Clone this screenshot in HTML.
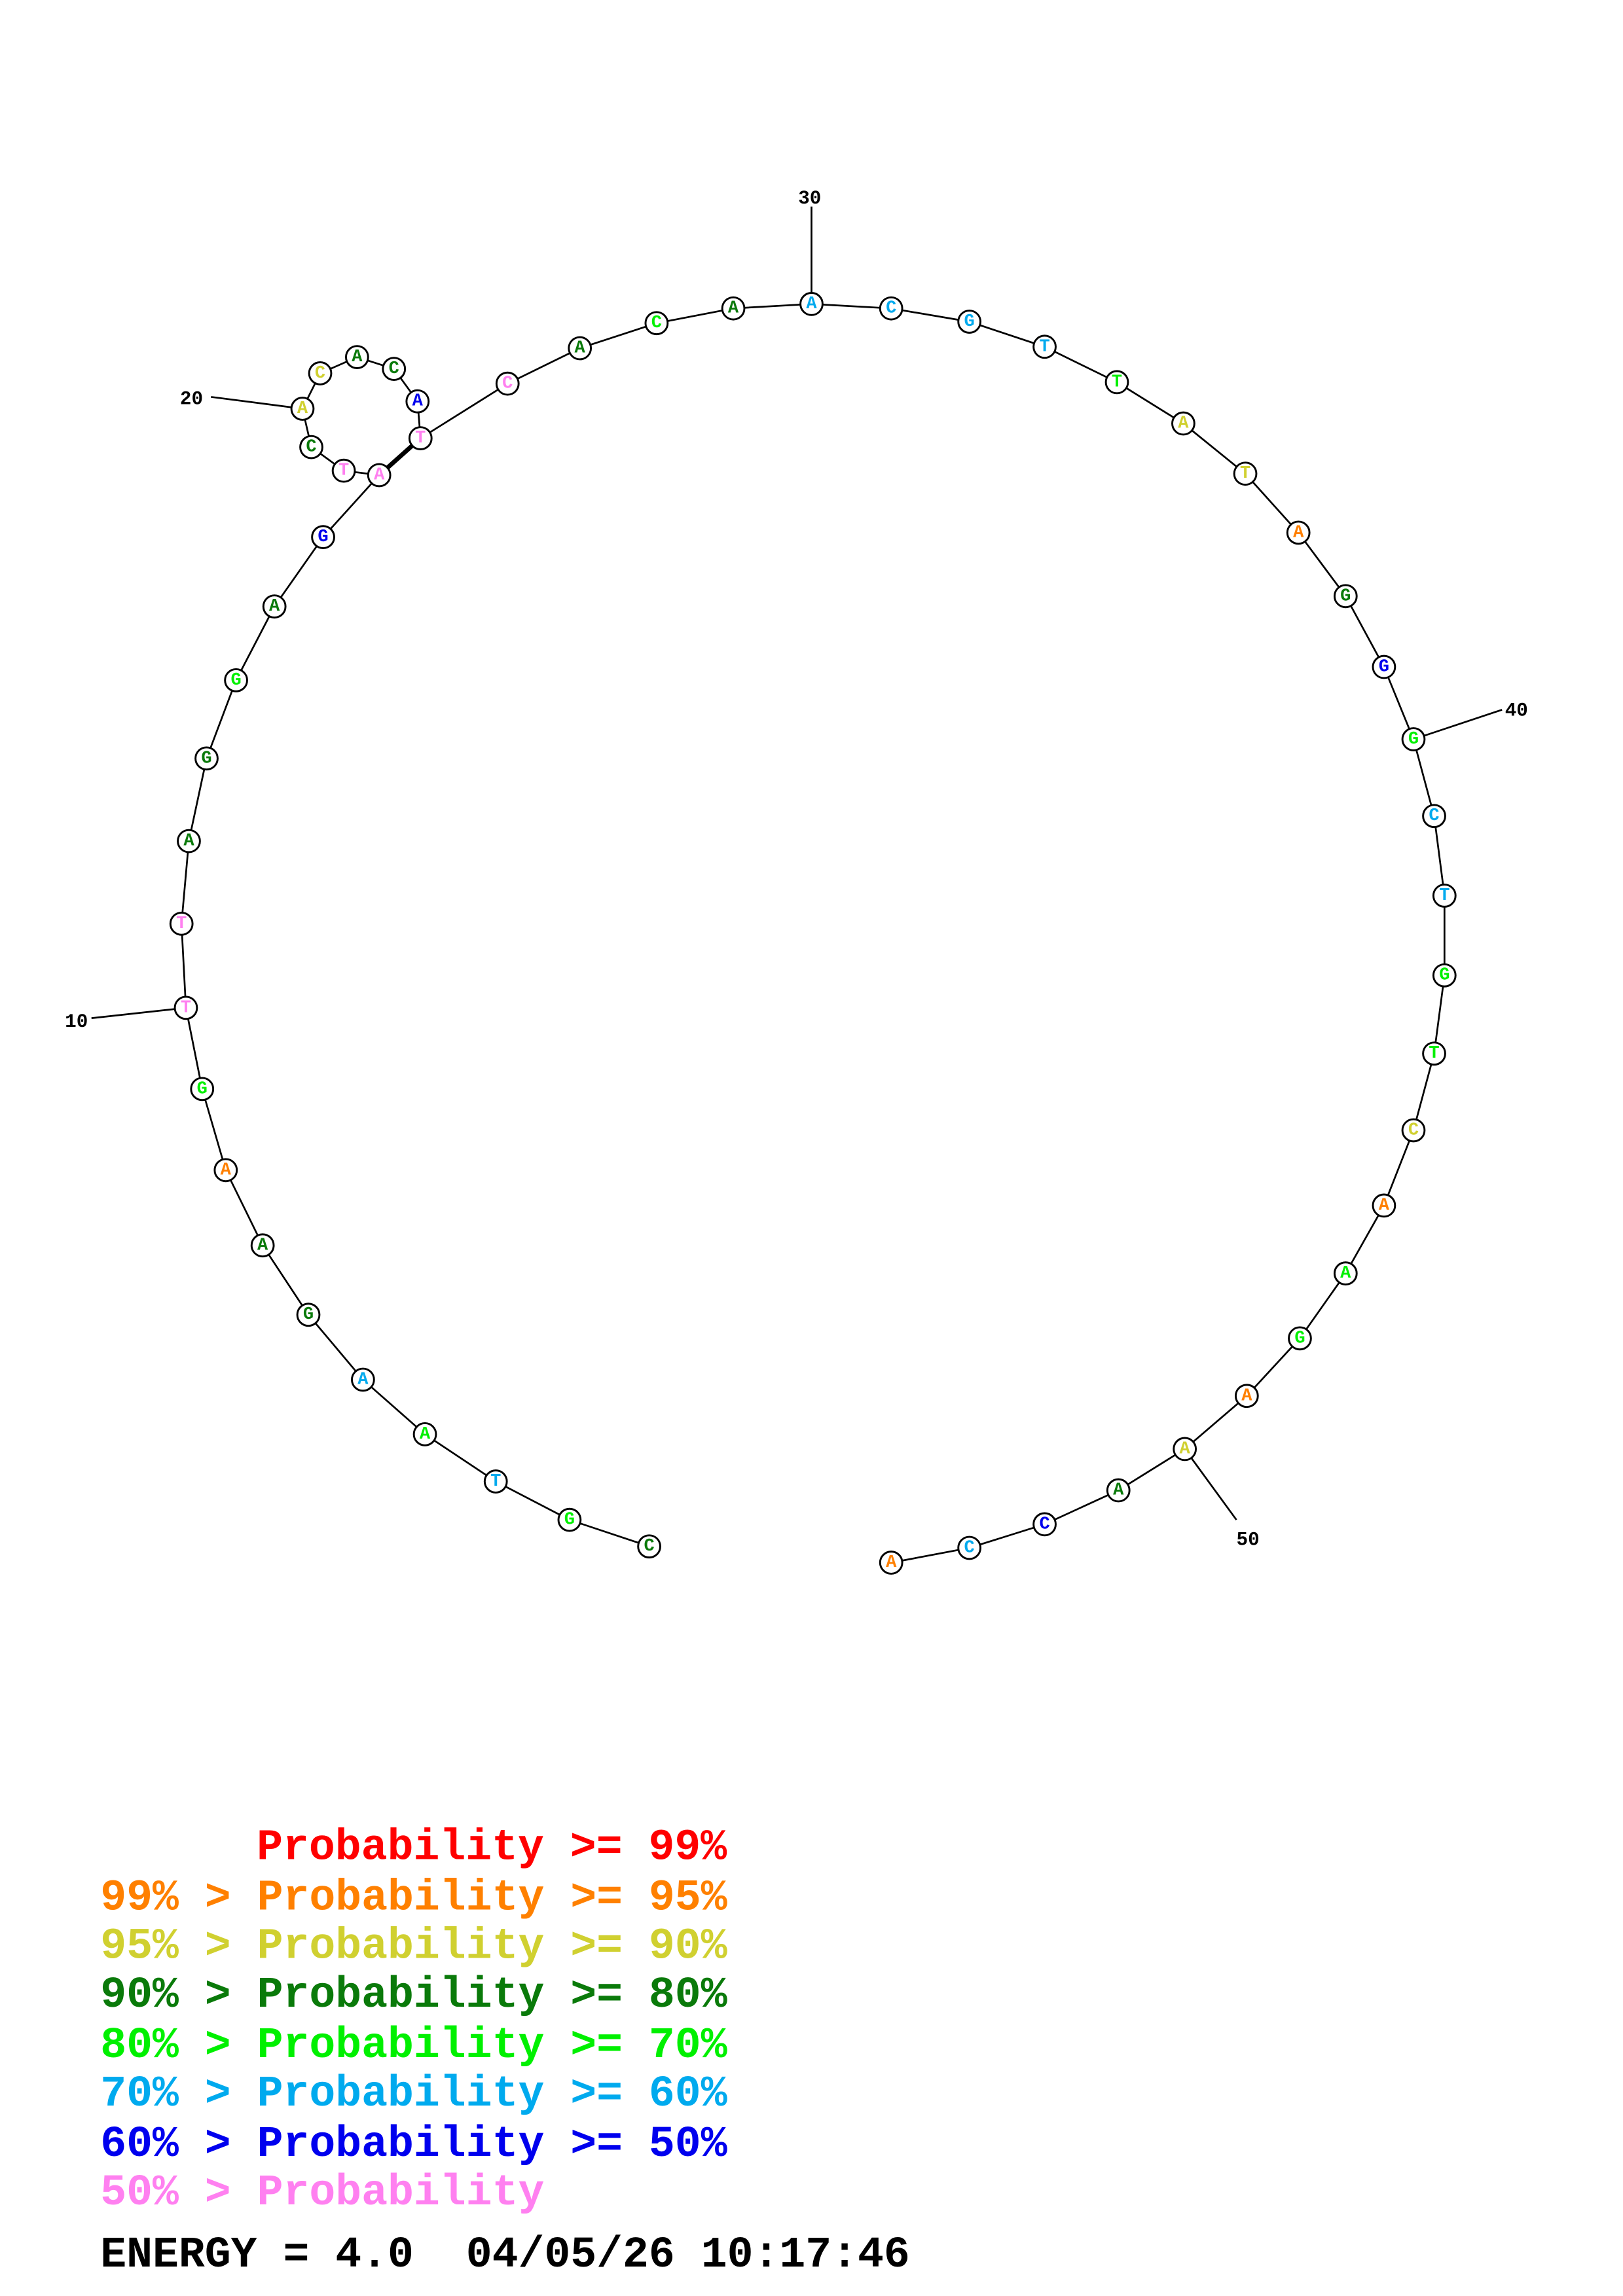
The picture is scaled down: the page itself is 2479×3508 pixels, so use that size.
<!DOCTYPE html>
<html><head><meta charset="utf-8"><style>
html,body{margin:0;padding:0;background:#fff}
svg{display:block}
.n circle{fill:#fff;stroke:#000;stroke-width:1.3}
.n text{font-family:"Liberation Mono",monospace;font-weight:bold;font-size:12px;text-anchor:middle;dominant-baseline:central}
.lb{font-family:"Liberation Mono",monospace;font-weight:bold;font-size:13px;fill:#000}
.lg text{font-family:"Liberation Mono",monospace;font-weight:bold;font-size:29.5px;white-space:pre}
.k{fill:#0a7a0a}.g{fill:#00f000}.c{fill:#00aaee}.o{fill:#ff8000}.y{fill:#d0d030}.b{fill:#0000ee}.p{fill:#ff80f0}
</style></head><body>
<svg width="2479" height="3508" viewBox="0 0 1100 1556" preserveAspectRatio="none" xmlns="http://www.w3.org/2000/svg">
<g stroke="#000" stroke-width="1.2" fill="none">
<polyline points="440,1048 386,1030 336,1004 288,972 246,935 209,891 178,844 153,793 137,738 126,683 123,626 128,570 140,514 160,461 186,411 219,364 257,322 233,319 211,303 205,277 217,253 242,242 267,250 283,272 285,297 344,260 393,236 445,219 497,209 550,206 604,209 657,218 708,235 757,259 802,287 844,321 880,361 912,404 938,452 958,501 972,553 979,607 979,661 972,714 958,766 938,817 912,863 881,907 845,946 803,982 758,1010 708,1033 657,1049 604,1059"/>
<line x1="257" y1="322" x2="285" y2="297" stroke-width="3"/>
<line x1="126" y1="683" x2="62" y2="690"/>
<line x1="205" y1="277" x2="143" y2="269"/>
<line x1="550" y1="206" x2="550" y2="140"/>
<line x1="958" y1="501" x2="1018" y2="481"/>
<line x1="803" y1="982" x2="838" y2="1030"/>
</g>
<text class="lb" x="44" y="696">10</text>
<text class="lb" x="122" y="274">20</text>
<text class="lb" x="541" y="138">30</text>
<text class="lb" x="1020" y="485">40</text>
<text class="lb" x="838" y="1047">50</text>
<g class="n">
<circle cx="440" cy="1048" r="7.5"/><text x="440" y="1048" class="k">C</text>
<circle cx="386" cy="1030" r="7.5"/><text x="386" y="1030" class="g">G</text>
<circle cx="336" cy="1004" r="7.5"/><text x="336" y="1004" class="c">T</text>
<circle cx="288" cy="972" r="7.5"/><text x="288" y="972" class="g">A</text>
<circle cx="246" cy="935" r="7.5"/><text x="246" y="935" class="c">A</text>
<circle cx="209" cy="891" r="7.5"/><text x="209" y="891" class="k">G</text>
<circle cx="178" cy="844" r="7.5"/><text x="178" y="844" class="k">A</text>
<circle cx="153" cy="793" r="7.5"/><text x="153" y="793" class="o">A</text>
<circle cx="137" cy="738" r="7.5"/><text x="137" y="738" class="g">G</text>
<circle cx="126" cy="683" r="7.5"/><text x="126" y="683" class="p">T</text>
<circle cx="123" cy="626" r="7.5"/><text x="123" y="626" class="p">T</text>
<circle cx="128" cy="570" r="7.5"/><text x="128" y="570" class="k">A</text>
<circle cx="140" cy="514" r="7.5"/><text x="140" y="514" class="k">G</text>
<circle cx="160" cy="461" r="7.5"/><text x="160" y="461" class="g">G</text>
<circle cx="186" cy="411" r="7.5"/><text x="186" y="411" class="k">A</text>
<circle cx="219" cy="364" r="7.5"/><text x="219" y="364" class="b">G</text>
<circle cx="257" cy="322" r="7.5"/><text x="257" y="322" class="p">A</text>
<circle cx="233" cy="319" r="7.5"/><text x="233" y="319" class="p">T</text>
<circle cx="211" cy="303" r="7.5"/><text x="211" y="303" class="k">C</text>
<circle cx="205" cy="277" r="7.5"/><text x="205" y="277" class="y">A</text>
<circle cx="217" cy="253" r="7.5"/><text x="217" y="253" class="y">C</text>
<circle cx="242" cy="242" r="7.5"/><text x="242" y="242" class="k">A</text>
<circle cx="267" cy="250" r="7.5"/><text x="267" y="250" class="k">C</text>
<circle cx="283" cy="272" r="7.5"/><text x="283" y="272" class="b">A</text>
<circle cx="285" cy="297" r="7.5"/><text x="285" y="297" class="p">T</text>
<circle cx="344" cy="260" r="7.5"/><text x="344" y="260" class="p">C</text>
<circle cx="393" cy="236" r="7.5"/><text x="393" y="236" class="k">A</text>
<circle cx="445" cy="219" r="7.5"/><text x="445" y="219" class="g">C</text>
<circle cx="497" cy="209" r="7.5"/><text x="497" y="209" class="k">A</text>
<circle cx="550" cy="206" r="7.5"/><text x="550" y="206" class="c">A</text>
<circle cx="604" cy="209" r="7.5"/><text x="604" y="209" class="c">C</text>
<circle cx="657" cy="218" r="7.5"/><text x="657" y="218" class="c">G</text>
<circle cx="708" cy="235" r="7.5"/><text x="708" y="235" class="c">T</text>
<circle cx="757" cy="259" r="7.5"/><text x="757" y="259" class="g">T</text>
<circle cx="802" cy="287" r="7.5"/><text x="802" y="287" class="y">A</text>
<circle cx="844" cy="321" r="7.5"/><text x="844" y="321" class="y">T</text>
<circle cx="880" cy="361" r="7.5"/><text x="880" y="361" class="o">A</text>
<circle cx="912" cy="404" r="7.5"/><text x="912" y="404" class="k">G</text>
<circle cx="938" cy="452" r="7.5"/><text x="938" y="452" class="b">G</text>
<circle cx="958" cy="501" r="7.5"/><text x="958" y="501" class="g">G</text>
<circle cx="972" cy="553" r="7.5"/><text x="972" y="553" class="c">C</text>
<circle cx="979" cy="607" r="7.5"/><text x="979" y="607" class="c">T</text>
<circle cx="979" cy="661" r="7.5"/><text x="979" y="661" class="g">G</text>
<circle cx="972" cy="714" r="7.5"/><text x="972" y="714" class="g">T</text>
<circle cx="958" cy="766" r="7.5"/><text x="958" y="766" class="y">C</text>
<circle cx="938" cy="817" r="7.5"/><text x="938" y="817" class="o">A</text>
<circle cx="912" cy="863" r="7.5"/><text x="912" y="863" class="g">A</text>
<circle cx="881" cy="907" r="7.5"/><text x="881" y="907" class="g">G</text>
<circle cx="845" cy="946" r="7.5"/><text x="845" y="946" class="o">A</text>
<circle cx="803" cy="982" r="7.5"/><text x="803" y="982" class="y">A</text>
<circle cx="758" cy="1010" r="7.5"/><text x="758" y="1010" class="k">A</text>
<circle cx="708" cy="1033" r="7.5"/><text x="708" y="1033" class="b">C</text>
<circle cx="657" cy="1049" r="7.5"/><text x="657" y="1049" class="c">C</text>
<circle cx="604" cy="1059" r="7.5"/><text x="604" y="1059" class="o">A</text>
</g>
<g class="lg">
<text x="174" y="1260" fill="#ff0000">Probability &gt;= 99%</text>
<text x="68" y="1294" fill="#ff8000">99% &gt; Probability &gt;= 95%</text>
<text x="68" y="1327" fill="#d0d030">95% &gt; Probability &gt;= 90%</text>
<text x="68" y="1360" fill="#0a7a0a">90% &gt; Probability &gt;= 80%</text>
<text x="68" y="1394" fill="#00f000">80% &gt; Probability &gt;= 70%</text>
<text x="68" y="1427" fill="#00aaee">70% &gt; Probability &gt;= 60%</text>
<text x="68" y="1461" fill="#0000ee">60% &gt; Probability &gt;= 50%</text>
<text x="68" y="1494" fill="#ff80f0">50% &gt; Probability</text>
<text x="68" y="1536" fill="#000">ENERGY = 4.0  04/05/26 10:17:46</text>
</g>
</svg>
</body></html>
